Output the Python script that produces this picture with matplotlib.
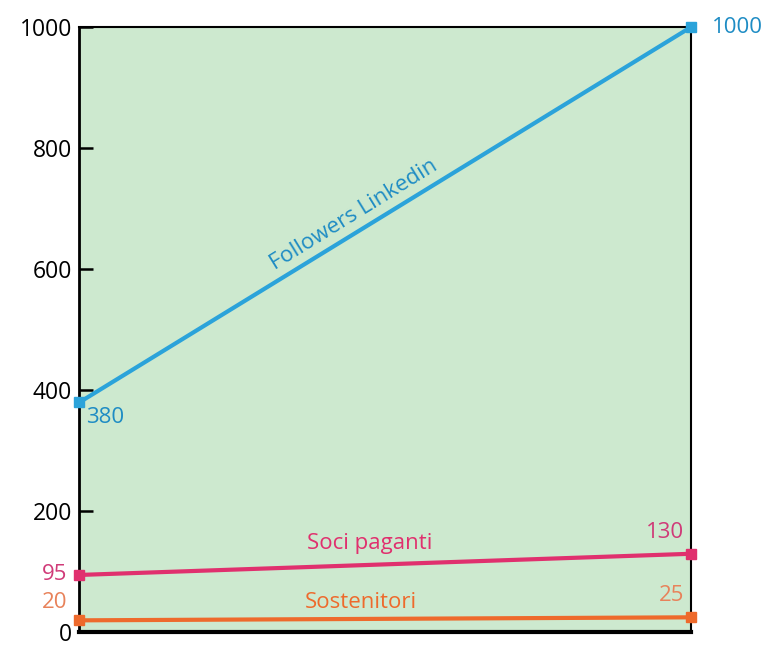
import matplotlib.pyplot as plt

# data
periods = [0, 1]
followers = [380, 1000]
soci = [95, 130]
sostenitori = [20, 25]
yticks = [0, 200, 400, 600, 800, 1000]

c_blue = '#2ba3da'
c_pink = '#e0306e'
c_orange = '#ee6a2c'
bg = '#cde9cf'

plt.rcParams['font.family'] = ['Open Sans', 'DejaVu Sans']

fig = plt.figure(figsize=(7.76, 6.5), dpi=100)
ax = fig.add_axes([0.102, 0.027, 0.788, 0.931])
ax.set_facecolor(bg)

ax.plot(periods, followers, color=c_blue, lw=3, marker='s', ms=7, clip_on=False, zorder=3)
ax.plot(periods, soci, color=c_pink, lw=3, marker='s', ms=7, clip_on=False, zorder=3)
ax.plot(periods, sostenitori, color=c_orange, lw=3, marker='s', ms=7, clip_on=False, zorder=3)

ax.set_xlim(0, 1)
ax.set_ylim(0, 1000)
ax.set_xticks([])
ax.set_yticks(yticks)
ax.tick_params(axis='y', direction='in', length=10, width=1.8, labelsize=16.5, pad=5)

for s in ['top', 'right']:
    ax.spines[s].set_linewidth(1.5)
ax.spines['left'].set_linewidth(2)
ax.spines['bottom'].set_linewidth(3)

fs = 16
# end value labels
ax.text(0.012, followers[0] - 8, str(followers[0]), color='#1e8cc4', fontsize=fs, va='top', ha='left')
ax.text(1.035, followers[1], str(followers[1]), color='#1e8cc4', fontsize=fs, va='center', ha='left', clip_on=False)
ax.text(-0.02, soci[0], str(soci[0]), color='#d03a78', fontsize=fs, va='center', ha='right')
ax.text(0.99, soci[1] + 18, str(soci[1]), color='#d03a78', fontsize=fs, va='bottom', ha='right')
ax.text(-0.02, sostenitori[0] + 30, str(sostenitori[0]), color='#e8825a', fontsize=fs, va='center', ha='right')
ax.text(0.99, sostenitori[1] + 18, str(sostenitori[1]), color='#e8825a', fontsize=fs, va='bottom', ha='right')

# series names
ax.text(0.45, 690, 'Followers Linkedin', color='#1e8cc4', fontsize=fs, rotation=31.7,
        ha='center', va='center', rotation_mode='anchor')
ax.text(0.475, 147, 'Soci paganti', color=c_pink, fontsize=fs, ha='center', va='center')
ax.text(0.46, 49, 'Sostenitori', color=c_orange, fontsize=fs, ha='center', va='center')

fig.savefig('out.png', dpi=100)
